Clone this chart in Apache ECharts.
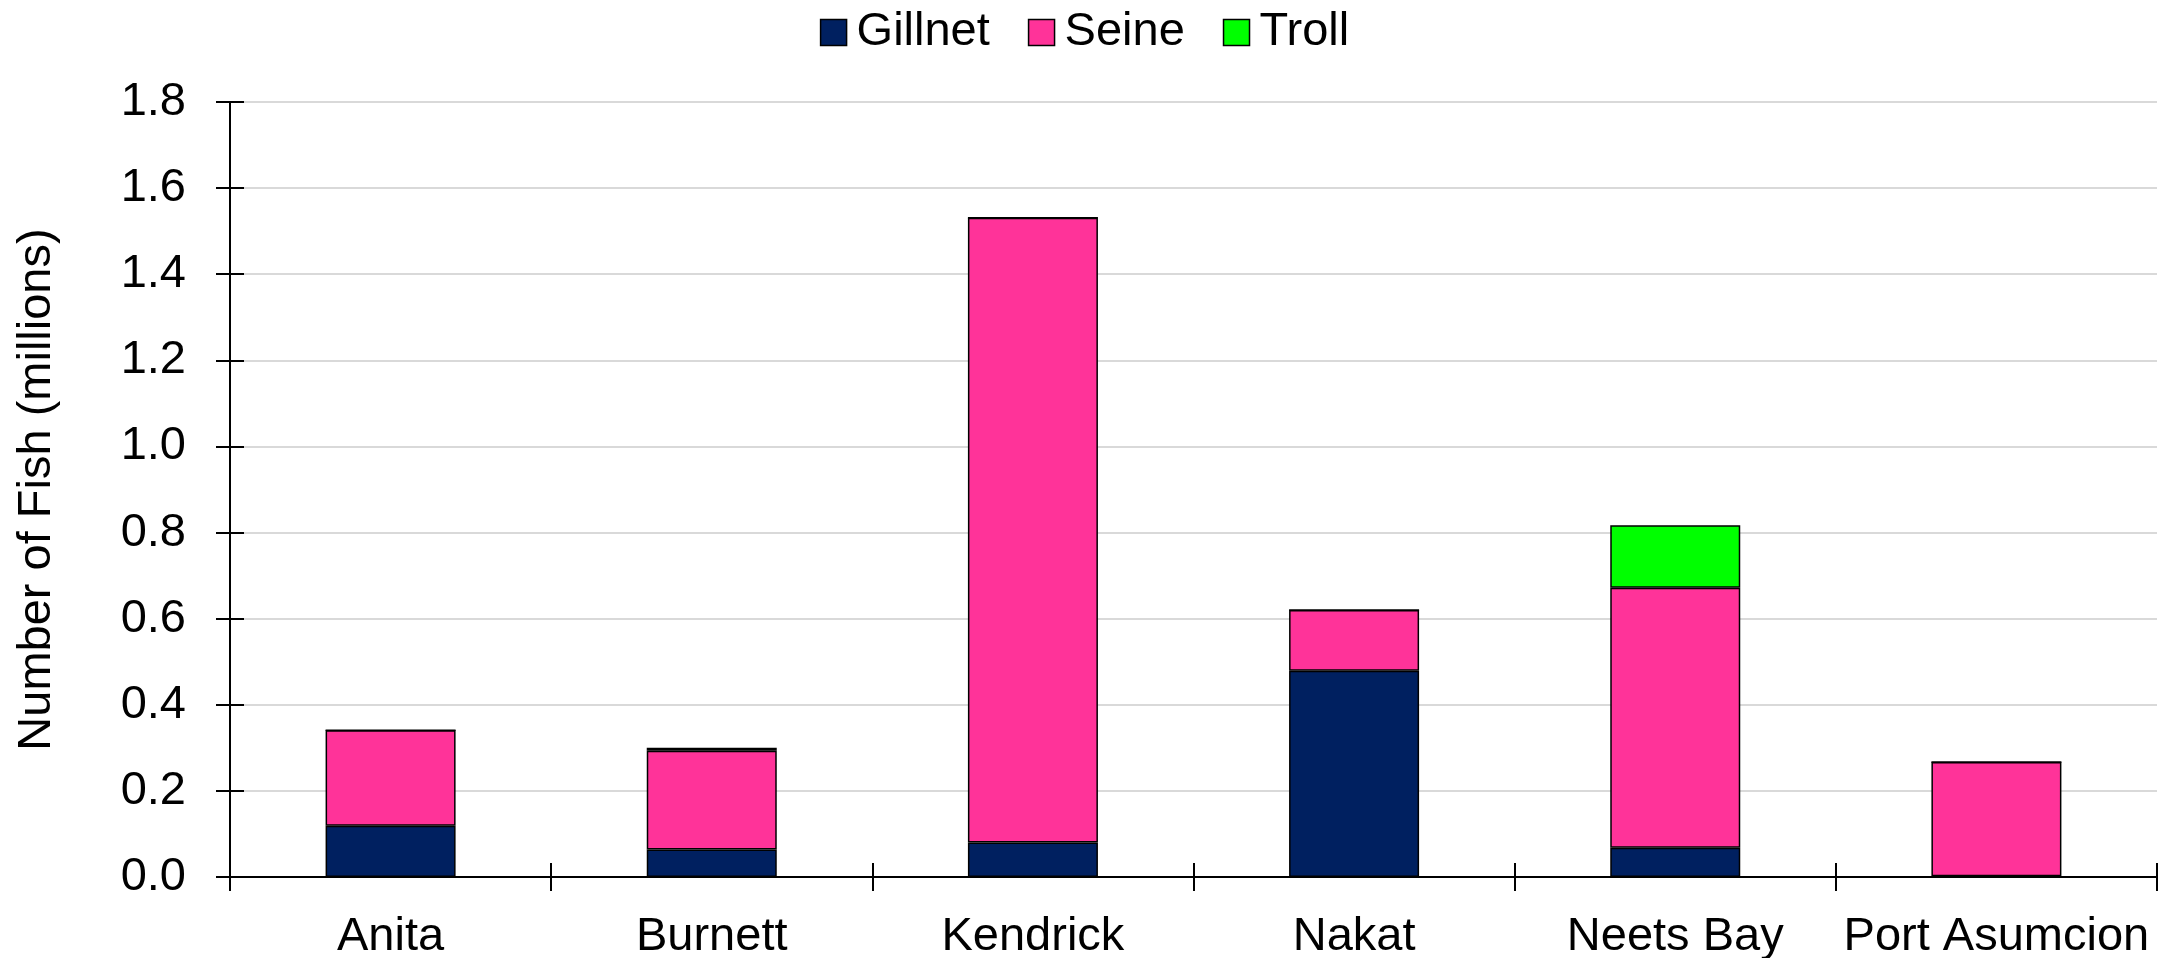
<!DOCTYPE html>
<html>
<head>
<meta charset="utf-8">
<script src="https://cdn.jsdelivr.net/npm/echarts@6/dist/echarts.min.js"></script>
<style>
html,body{margin:0;padding:0;background:#fff;}
#chart{width:2169px;height:958px;}
</style>
</head>
<body>
<div id="chart"></div>
<script>
const categories = ['Anita', 'Burnett', 'Kendrick', 'Nakat', 'Neets Bay', 'Port Asumcion'];
const gillnet = [0.119, 0.064, 0.080, 0.479, 0.068, 0.002];
const seine   = [0.222, 0.229, 1.451, 0.141, 0.604, 0.265];
const troll   = [0.000, 0.007, 0.000, 0.000, 0.145, 0.000];
const yTicks  = { min: 0, max: 1.8, interval: 0.2 };

const FONT = 'Liberation Sans, Arial, sans-serif';
const FS = 47;
const GRID = { left: 230, right: 12, top: 102, bottom: 81 };
const GW = 2169 - GRID.left - GRID.right;
const GH = 958 - GRID.top - GRID.bottom;

const chart = echarts.init(document.getElementById('chart'), null, {renderer: 'canvas'});

function barSeries(name, data, color) {
  return {
    name: name,
    type: 'bar',
    stack: 'total',
    data: data,
    barWidth: 130,
    xAxisIndex: 0,
    yAxisIndex: 0,
    itemStyle: { color: color, borderColor: '#000', borderWidth: 1.5 },
    emphasis: { disabled: true }
  };
}

const tickStyle = { color: '#000', width: 2 };

chart.setOption({
  animation: false,
  backgroundColor: '#fff',
  textStyle: { fontFamily: FONT },
  legend: {
    top: 4,
    left: 'center',
    itemWidth: 26,
    itemHeight: 26,
    itemGap: 38,
    icon: 'rect',
    textStyle: { fontSize: FS, color: '#000', fontFamily: FONT, padding: [0, 0, 0, 5] },
    data: [
      { name: 'Gillnet', itemStyle: { borderColor: '#000', borderWidth: 1.5 } },
      { name: 'Seine', itemStyle: { borderColor: '#000', borderWidth: 1.5 } },
      { name: 'Troll', itemStyle: { borderColor: '#000', borderWidth: 1.5 } }
    ]
  },
  grid: { left: GRID.left, right: GRID.right, top: GRID.top, bottom: GRID.bottom,
          containLabel: false, outerBoundsMode: 'none' },
  xAxis: [
    {
      type: 'category',
      data: categories,
      position: 'bottom',
      axisLine: { lineStyle: { color: '#000', width: 2 } },
      axisTick: { show: true, inside: false, length: 14, interval: 0, lineStyle: tickStyle },
      axisLabel: { fontSize: FS, color: '#000', fontFamily: FONT, margin: 37, interval: 0 },
      splitLine: { show: false }
    },
    {
      type: 'category',
      data: categories,
      position: 'top',
      offset: -GH,
      axisLine: { show: false },
      axisTick: { show: true, inside: false, length: 14, interval: 0, lineStyle: tickStyle },
      axisLabel: { show: false },
      splitLine: { show: false }
    }
  ],
  yAxis: [
    {
      type: 'value',
      min: yTicks.min, max: yTicks.max, interval: yTicks.interval,
      position: 'left',
      name: 'Number of Fish (millions)',
      nameLocation: 'middle',
      nameGap: 169,
      nameTextStyle: { fontSize: FS, color: '#000', fontFamily: FONT },
      axisLine: { show: true, lineStyle: { color: '#000', width: 2 } },
      axisTick: { show: true, inside: false, length: 14, lineStyle: tickStyle },
      axisLabel: { fontSize: FS, color: '#000', fontFamily: FONT, margin: 44,
                   formatter: v => v.toFixed(1) },
      splitLine: { show: true, lineStyle: { color: '#d9d9d9', width: 2 } }
    },
    {
      type: 'value',
      min: yTicks.min, max: yTicks.max, interval: yTicks.interval,
      position: 'right',
      offset: -GW,
      axisLine: { show: false },
      axisTick: { show: true, inside: false, length: 14, lineStyle: tickStyle },
      axisLabel: { show: false },
      splitLine: { show: false }
    }
  ],
  series: [
    barSeries('Gillnet', gillnet, '#002060'),
    barSeries('Seine', seine, '#ff3399'),
    barSeries('Troll', troll, '#00ff00')
  ]
});
</script>
</body>
</html>
